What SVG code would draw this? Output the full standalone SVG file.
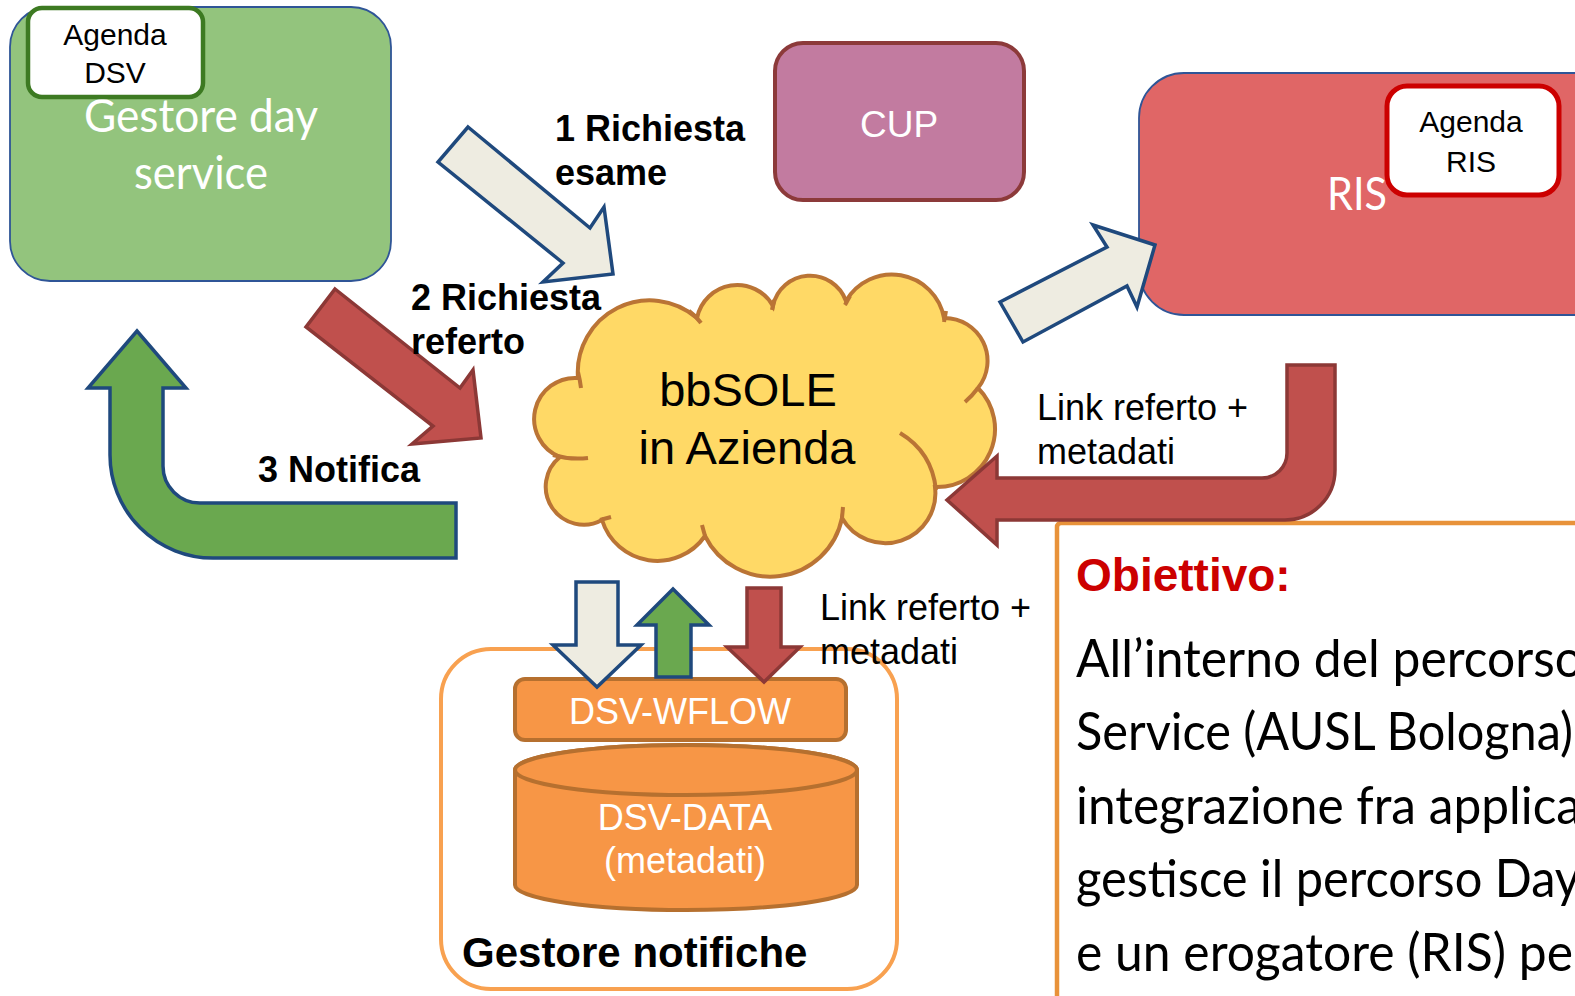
<svg xmlns="http://www.w3.org/2000/svg" width="1575" height="996" viewBox="0 0 1575 996">
<style>
.arial{font-family:"Liberation Sans",Arial,sans-serif}
.cal{font-family:Lato,"Open Sans",sans-serif}
.b{font-weight:bold}
.lbl{font-family:"Liberation Sans",Arial,sans-serif;font-size:36px;fill:#000}
.cream{fill:#EEECE1;stroke:#1F497D;stroke-width:3.5;stroke-linejoin:miter}
.green{fill:#6AA84F;stroke:#1F497D;stroke-width:3.5}
.red{fill:#C0504D;stroke:#8C3836;stroke-width:3.5}
.orange{fill:#F79646;stroke:#B6702F;stroke-width:4}
.tick{fill:none;stroke:#BA7435;stroke-width:4;stroke-linecap:butt}
</style>
<rect width="1575" height="996" fill="#FFFFFF"/>

<g id="gestore-day-service">
  <rect x="10" y="7" width="381" height="274" rx="40" fill="#93C47D" stroke="#2F5597" stroke-width="1.8"/>
  <text class="cal" x="201" y="132" font-size="47" fill="#FFFFFF" text-anchor="middle" textLength="234" lengthAdjust="spacingAndGlyphs">Gestore day</text>
  <text class="cal" x="201" y="189" font-size="47" fill="#FFFFFF" text-anchor="middle" textLength="134" lengthAdjust="spacingAndGlyphs">service</text>
</g>
<g id="agenda-dsv">
  <rect x="28" y="8" width="175" height="89" rx="14" fill="#FFFFFF" stroke="#3D7A22" stroke-width="4.5"/>
  <text class="arial" x="115" y="45" font-size="30" text-anchor="middle">Agenda</text>
  <text class="arial" x="115" y="83" font-size="30" text-anchor="middle">DSV</text>
</g>

<g id="cup">
  <rect x="775" y="43" width="249" height="157" rx="28" fill="#C27BA0" stroke="#8C3A3A" stroke-width="4"/>
  <text class="arial" x="899" y="137" font-size="37" fill="#FFFFFF" text-anchor="middle">CUP</text>
</g>

<g id="ris">
  <rect x="1139" y="73" width="480" height="242" rx="45" fill="#E06666" stroke="#2F5597" stroke-width="1.8"/>
  <text class="cal" x="1357" y="210" font-size="47" fill="#FFFFFF" text-anchor="middle" textLength="60" lengthAdjust="spacingAndGlyphs">RIS</text>
</g>
<g id="agenda-ris">
  <rect x="1387" y="86" width="172" height="109" rx="20" fill="#FFFFFF" stroke="#CC0000" stroke-width="5"/>
  <text class="arial" x="1471" y="132" font-size="30" text-anchor="middle">Agenda</text>
  <text class="arial" x="1471" y="172" font-size="30" text-anchor="middle">RIS</text>
</g>

<g id="bbsole-cloud">
  <path d="M 560,457 A 41 41 0 0 1 578,378 A 72 72 0 0 1 697,318 A 41 41 0 0 1 773,306 A 38 38 0 0 1 846,301 A 53 53 0 0 1 944,318 A 43 43 0 0 1 978,388 A 58 58 0 0 1 935,487 A 50 50 0 0 1 842,518 A 73 73 0 0 1 705,536 A 58 58 0 0 1 602,520 A 38 38 0 0 1 560,457 Z" fill="#FFD966" stroke="#BA7435" stroke-width="4"/>
  <path class="tick" d="M 553,455 Q 570,460 588,458"/>
  <path class="tick" d="M 578,372 Q 580,380 581,388"/>
  <path class="tick" d="M 689,311 Q 696,316 701,323"/>
  <path class="tick" d="M 774,300 L 772,310"/>
  <path class="tick" d="M 850,296 L 845,305"/>
  <path class="tick" d="M 946,311 L 944,322"/>
  <path class="tick" d="M 978,388 Q 972,396 965,402"/>
  <path class="tick" d="M 900,433 Q 932,452 936,490"/>
  <path class="tick" d="M 842,518 L 843,507"/>
  <path class="tick" d="M 705,536 L 702,525"/>
  <path class="tick" d="M 600,520 L 611,517"/>
  <text class="arial" x="748" y="406" font-size="47" text-anchor="middle">bbSOLE</text>
  <text class="arial" x="747" y="464" font-size="47" text-anchor="middle">in Azienda</text>
</g>

<g id="gestore-notifiche">
  <rect x="441" y="649" width="456" height="340" rx="50" fill="#FFFFFF" stroke="#F8A150" stroke-width="4"/>
  <text class="arial b" x="462" y="967" font-size="42">Gestore notifiche</text>
</g>
<g id="dsv-wflow">
  <rect x="515" y="679" width="331" height="61" rx="10" class="orange"/>
  <text class="arial" x="680" y="724" font-size="36" fill="#FFFFFF" text-anchor="middle">DSV-WFLOW</text>
</g>
<g id="dsv-data">
  <path class="orange" d="M 515,770 L 515,885 A 171 25 0 0 0 857,885 L 857,770 A 171 25 0 0 0 515,770 Z"/>
  <ellipse cx="686" cy="770" rx="171" ry="25" class="orange"/>
  <text class="arial" x="685" y="830" font-size="36" fill="#FFFFFF" text-anchor="middle">DSV-DATA</text>
  <text class="arial" x="685" y="873" font-size="36" fill="#FFFFFF" text-anchor="middle">(metadati)</text>
</g>

<g id="obiettivo">
  <rect x="1057" y="523" width="620" height="600" rx="4" fill="#FFFFFF" stroke="#E8923A" stroke-width="4.5"/>
  <text class="arial b" x="1076" y="591" font-size="46" fill="#CC0000">Obiettivo:</text>
  <g class="cal" font-size="53" fill="#000000">
    <text x="1076" y="677" textLength="507" lengthAdjust="spacingAndGlyphs">All’interno del percorso</text>
    <text x="1076" y="750" textLength="497" lengthAdjust="spacingAndGlyphs">Service (AUSL Bologna)</text>
    <text x="1076" y="824" textLength="505" lengthAdjust="spacingAndGlyphs">integrazione fra applica</text>
    <text x="1076" y="897" textLength="504" lengthAdjust="spacingAndGlyphs">gestisce il percorso Day</text>
    <text x="1076" y="971" textLength="497" lengthAdjust="spacingAndGlyphs">e un erogatore (RIS) pe</text>
  </g>
</g>

<g id="connectors">
  <polygon class="cream" points="468,127 590,228 604,207 613,274 543,282 563,263 438,162"/>
  <polygon class="red" points="335,289 460,388 473,370 481,438 412,444 433,426 306,327"/>
  <path class="green" d="M 456,503 L 200,503 A 37 37 0 0 1 163,466 L 163,388 L 186,388 L 137,331 L 88,388 L 110,388 L 110,455 A 103 103 0 0 0 213,558 L 456,558 Z"/>
  <polygon class="cream" points="1000,302 1107,247 1093,225 1155,245 1137,307 1127,286 1023,342"/>
  <path class="red" d="M 1287,365 L 1335,365 L 1335,470 A 50 50 0 0 1 1285,520 L 997,520 L 997,545 L 947,500 L 997,456 L 997,478 L 1262,478 A 25 25 0 0 0 1287,453 Z"/>
  <polygon class="cream" points="576,582 618,582 618,645 641,645 597,687 553,645 576,645"/>
  <polygon class="green" points="656,677 691,677 691,625 709,625 673,589 637,625 656,625"/>
  <polygon class="red" points="747,588 781,588 781,647 800,647 764,682 727,647 747,647"/>
</g>

<g id="labels">
  <text class="lbl b" x="555" y="141">1 Richiesta</text>
  <text class="lbl b" x="555" y="185">esame</text>
  <text class="lbl b" x="411" y="310">2 Richiesta</text>
  <text class="lbl b" x="411" y="354">referto</text>
  <text class="lbl b" x="258" y="482">3 Notifica</text>
  <text class="lbl" x="1037" y="420">Link referto +</text>
  <text class="lbl" x="1037" y="464">metadati</text>
  <text class="lbl" x="820" y="620">Link referto +</text>
  <text class="lbl" x="820" y="664">metadati</text>
</g>
</svg>
